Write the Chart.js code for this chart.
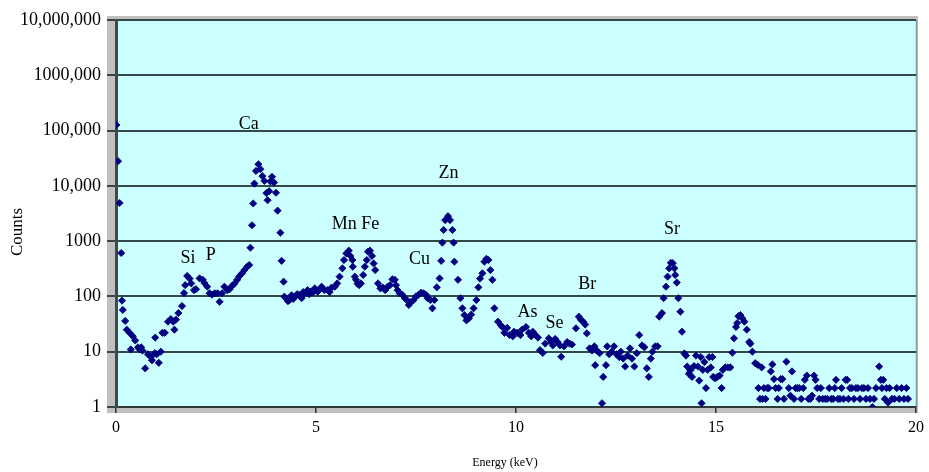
<!DOCTYPE html>
<html>
<head>
<meta charset="utf-8">
<script src="https://cdn.jsdelivr.net/npm/chart.js@4.4.1/dist/chart.umd.min.js"></script>
<style>
  html, body { margin: 0; padding: 0; background: #ffffff; }
  #wrap { width: 929px; height: 472px; position: relative; }
</style>
</head>
<body>
<div id="wrap"><canvas id="c" width="929" height="472"></canvas></div>
<script>
// ---------- data ----------
const energies = [
  0.01, 0.05, 0.09, 0.13, 0.15, 0.17, 0.23, 0.27, 0.34, 0.37, 0.42, 0.48, 0.55, 0.59, 0.63, 0.66, 0.73, 0.80, 0.87, 0.90,
  0.97, 0.98, 1.02, 1.07, 1.12, 1.16, 1.22, 1.30, 1.37, 1.43, 1.46, 1.50, 1.56, 1.65, 1.70, 1.73, 1.78, 1.84, 1.88, 1.95,
  2.00, 2.09, 2.17, 2.21, 2.28, 2.34, 2.40, 2.47, 2.54, 2.59, 2.65, 2.71, 2.78, 2.84, 2.90, 2.96, 3.03, 3.08, 3.15, 3.21,
  3.28, 3.33, 3.36, 3.40, 3.43, 3.46, 3.50, 3.56, 3.61, 3.66, 3.71, 3.76, 3.79, 3.83, 3.86, 3.90, 3.95, 4.00, 4.04, 4.11,
  4.14, 4.19, 4.21, 4.27, 4.30, 4.34, 4.39, 4.43, 4.48, 4.53, 4.58, 4.64, 4.68, 4.72, 4.79, 4.83, 4.87, 4.92, 4.97, 5.04,
  5.09, 5.14, 5.21, 5.29, 5.34, 5.39, 5.47, 5.53, 5.59, 5.66, 5.70, 5.76, 5.82, 5.86, 5.91, 5.92, 5.97, 6.00, 6.04, 6.08,
  6.12, 6.18, 6.22, 6.27, 6.30, 6.35, 6.40, 6.44, 6.48, 6.55, 6.61, 6.67, 6.73, 6.79, 6.85, 6.91, 6.97, 7.00, 7.04, 7.09,
  7.16, 7.22, 7.27, 7.32, 7.38, 7.44, 7.50, 7.56, 7.63, 7.69, 7.75, 7.79, 7.86, 7.91, 7.96, 8.02, 8.09, 8.13, 8.16, 8.19,
  8.23, 8.30, 8.35, 8.41, 8.44, 8.46, 8.55, 8.61, 8.66, 8.71, 8.76, 8.82, 8.88, 8.94, 9.01, 9.06, 9.10, 9.16, 9.21, 9.26,
  9.31, 9.36, 9.41, 9.46, 9.55, 9.62, 9.66, 9.71, 9.78, 9.84, 9.92, 9.95, 10.03, 10.11, 10.15, 10.25, 10.32, 10.38, 10.42, 10.49,
  10.55, 10.60, 10.67, 10.73, 10.82, 10.88, 10.92, 10.98, 11.04, 11.10, 11.13, 11.20, 11.28, 11.34, 11.40, 11.50, 11.57, 11.62, 11.68, 11.73,
  11.77, 11.84, 11.90, 11.96, 11.98, 12.02, 12.09, 12.15, 12.18, 12.25, 12.28, 12.33, 12.39, 12.45, 12.51, 12.58, 12.62, 12.68, 12.73, 12.79,
  12.85, 12.90, 12.96, 13.02, 13.08, 13.15, 13.21, 13.27, 13.32, 13.37, 13.41, 13.48, 13.54, 13.58, 13.65, 13.69, 13.75, 13.79, 13.83, 13.87,
  13.92, 13.96, 13.98, 14.02, 14.06, 14.11, 14.15, 14.21, 14.25, 14.28, 14.32, 14.36, 14.40, 14.45, 14.50, 14.55, 14.58, 14.62, 14.64, 14.67,
  14.71, 14.75, 14.79, 14.83, 14.87, 14.91, 14.93, 14.98, 15.03, 15.09, 15.14, 15.17, 15.23, 15.30, 15.36, 15.41, 15.45, 15.50, 15.53, 15.56,
  15.61, 15.66, 15.71, 15.77, 15.83, 15.86, 15.91, 15.98, 16.04, 16.06, 16.10, 16.14, 16.16, 16.20, 16.24, 16.28, 16.32, 16.37, 16.41, 16.45,
  16.49, 16.54, 16.57, 16.62, 16.66, 16.70, 16.76, 16.82, 16.86, 16.90, 16.95, 16.99, 17.03, 17.08, 17.13, 17.18, 17.22, 17.27, 17.31, 17.36,
  17.40, 17.45, 17.49, 17.53, 17.58, 17.62, 17.67, 17.73, 17.78, 17.83, 17.88, 17.93, 17.97, 18.00, 18.05, 18.10, 18.14, 18.19, 18.24, 18.28,
  18.31, 18.35, 18.40, 18.45, 18.50, 18.55, 18.60, 18.65, 18.70, 18.75, 18.80, 18.85, 18.91, 18.95, 19.00, 19.08, 19.12, 19.15, 19.18, 19.22,
  19.26, 19.30, 19.34, 19.40, 19.46, 19.52, 19.58, 19.64, 19.70, 19.76, 19.80
];
const counts = [
  126000, 28000, 4900, 610, 84, 57, 36, 25, 22, 11, 19, 16, 12, 11, 12, 10.5, 5, 9, 8, 7,
  9.4, 18, 9, 6.3, 10, 22, 22, 35, 39, 35, 25, 38, 50, 67, 115, 160, 235, 210, 172, 130,
  135, 212, 200, 175, 150, 114, 108, 114, 114, 80, 114, 150, 130, 135, 155, 170, 200, 230, 262, 300,
  345, 370, 760, 1940, 4800, 11000, 18600, 24600, 20000, 15000, 12300, 7400, 5500, 8000, 12000, 14600, 11500, 7500, 3560, 1420,
  440, 185, 99, 90, 82, 86, 105, 90, 100, 110, 105, 93, 120, 114, 130, 110, 122, 118, 140, 122,
  135, 150, 130, 130, 120, 145, 150, 172, 228, 322, 455, 600, 673, 540, 455, 345, 228, 200, 170, 160,
  172, 244, 345, 455, 645, 673, 540, 395, 300, 172, 140, 145, 130, 150, 160, 204, 200, 160, 130, 114,
  107, 93, 86, 70, 80, 86, 100, 107, 117, 114, 107, 93, 86, 61, 86, 146, 212, 440, 940, 1590,
  2400, 2830, 2400, 1590, 940, 425, 200, 93, 61, 46, 37, 40, 47, 61, 86, 146, 210, 262, 425, 480,
  455, 300, 200, 61, 35, 30, 28, 22, 27, 20, 19, 23, 22, 20, 25, 28, 22, 19, 23, 20,
  18, 10.7, 9.5, 14, 17.5, 15, 13, 17, 15, 13, 8.1, 12.5, 15, 14, 13.5, 26.5, 43, 38, 35, 31,
  21.5, 11.5, 10.5, 12.5, 5.7, 10.5, 9.4, 1.17, 3.5, 5.7, 12.5, 9, 10, 12.5, 9, 8, 10, 7.5, 5.4, 8.5,
  11.5, 7.5, 5.4, 9.4, 20, 13, 12, 5, 3.5, 7.5, 10, 12.5, 12.5, 43, 50, 93, 150, 228, 322, 405,
  400, 322, 244, 178, 93, 53, 23, 9.3, 8.5, 5.4, 4, 4.6, 3.5, 5.5, 8.5, 5.4, 3, 8, 1.17, 4.7,
  6.5, 2.2, 4.7, 8, 5.2, 8, 3.5, 3.3, 3.5, 3.7, 2.2, 4.7, 5.2, 5.2, 5.2, 9.6, 17.5, 28, 33, 44,
  46, 40, 35, 25, 15, 14, 10, 6.2, 5.8, 2.2, 1.4, 5.2, 1.4, 2.2, 1.4, 2.2, 2.2, 4.4, 5.9, 3.2,
  2.2, 1.4, 2.2, 3.2, 3.2, 1.4, 6.6, 2.2, 1.6, 4.4, 1.4, 2.2, 2.2, 2.2, 1.4, 2.2, 3.1, 3.7, 1.4, 1.4,
  1.6, 3.7, 3.1, 2.2, 1.4, 2.2, 1.4, 1.4, 1.4, 2.2, 1.4, 1.4, 2.2, 3.1, 1.4, 1.4, 2.2, 1.4, 3.1, 3.1,
  1.4, 2.2, 2.2, 1.4, 2.2, 2.2, 1.4, 2.2, 2.2, 1.4, 2.2, 1.4, 1.0, 1.4, 2.2, 5.4, 3.1, 2.2, 3.1, 1.4,
  2.2, 1.2, 2.2, 1.4, 1.4, 2.2, 1.4, 2.2, 1.4, 2.2, 1.4
];
const yTickValues = [1, 10, 100, 1000, 10000, 100000, 1000000, 10000000];
const yTickLabels = ["1", "10", "100", "1000", "10,000", "100,000", "1000,000", "10,000,000"];
const xTickValues = [0, 5, 10, 15, 20];
const elementNames = ["Ca", "Zn", "Mn Fe", "Si", "P", "Cu", "As", "Se", "Br", "Sr"];
const elementEnergy = [3.32, 8.31, 5.99, 1.80, 2.37, 7.59, 10.29, 10.96, 11.78, 13.90];
const elementCounts = [131000, 17000, 2050, 495, 560, 475, 52, 33, 167, 1660];
const xTitle = "Energy (keV)";
const yTitle = "Counts";

// ---------- chart ----------
const points = energies.map((e, i) => ({ x: e, y: counts[i] }));
const SERIF = '"Liberation Serif", "Times New Roman", serif';

const framePlugin = {
  id: 'frame',
  beforeDraw(chart) {
    const { ctx, chartArea: a } = chart;
    ctx.save();
    ctx.fillStyle = '#ffffff';
    ctx.fillRect(0, 0, chart.width, chart.height);
    // grey walls (left, top, floor)
    ctx.fillStyle = '#c0c0c0';
    ctx.fillRect(a.left - 9, a.top - 4, a.right - a.left + 11, a.bottom - a.top + 10);
    // cyan plot area
    ctx.fillStyle = '#ccffff';
    ctx.fillRect(a.left, a.top, a.right - a.left, a.bottom - a.top);
    // right edge
    ctx.strokeStyle = '#7f9a9a';
    ctx.lineWidth = 1.5;
    ctx.beginPath();
    ctx.moveTo(a.right + 0.5, a.top);
    ctx.lineTo(a.right + 0.5, a.bottom);
    ctx.stroke();
    ctx.restore();
  },
  afterDraw(chart) {
    const { ctx, chartArea: a, scales } = chart;
    ctx.save();
    ctx.fillStyle = '#000000';
    ctx.textAlign = 'center';
    ctx.textBaseline = 'middle';
    ctx.font = '18px ' + SERIF;
    elementNames.forEach((n, i) => {
      ctx.fillText(n, scales.x.getPixelForValue(elementEnergy[i]), scales.y.getPixelForValue(elementCounts[i]));
    });
    // axis titles
    ctx.font = '12px ' + SERIF;
    ctx.fillText(xTitle, (a.left + a.right) / 2 - 11, 463);
    ctx.save();
    ctx.translate(18, 232);
    ctx.rotate(-Math.PI / 2);
    ctx.font = '17px ' + SERIF;
    ctx.fillText(yTitle, 0, 0);
    ctx.restore();
    ctx.restore();
  }
};

new Chart(document.getElementById('c'), {
  type: 'scatter',
  data: {
    datasets: [{
      data: points,
      pointStyle: 'rectRot',
      pointRadius: 3.6,
      pointBackgroundColor: '#000080',
      pointBorderColor: '#000080',
      pointBorderWidth: 0.8,
      showLine: false
    }]
  },
  options: {
    responsive: false,
    animation: false,
    devicePixelRatio: 1,
    layout: { padding: { top: 20, right: 12, left: 0, bottom: 0 } },
    plugins: { legend: { display: false }, tooltip: { enabled: false } },
    scales: {
      x: {
        type: 'linear',
        min: 0, max: 20,
        afterBuildTicks: s => { s.ticks = xTickValues.map(v => ({ value: v })); },
        afterFit: s => { s.height = 65; },
        ticks: { font: { family: SERIF, size: 16 }, color: '#000', padding: 5, maxRotation: 0 },
        grid: { drawOnChartArea: false, drawTicks: true, tickLength: 6, color: '#303030', lineWidth: 1.5 },
        border: { display: true, color: '#303838', width: 2 }
      },
      y: {
        type: 'logarithmic',
        min: 1, max: 10000000,
        afterBuildTicks: s => { s.ticks = yTickValues.map(v => ({ value: v })); },
        afterFit: s => { s.width = 116; },
        ticks: {
          font: { family: SERIF, size: 18 }, color: '#000', padding: 6,
          callback: (v) => { const i = yTickValues.indexOf(v); return i >= 0 ? yTickLabels[i] : ''; }
        },
        grid: { color: '#344848', lineWidth: 2, tickLength: 9 },
        border: { display: true, color: '#404848', width: 3 }
      }
    }
  },
  plugins: [framePlugin]
});
</script>
</body>
</html>
